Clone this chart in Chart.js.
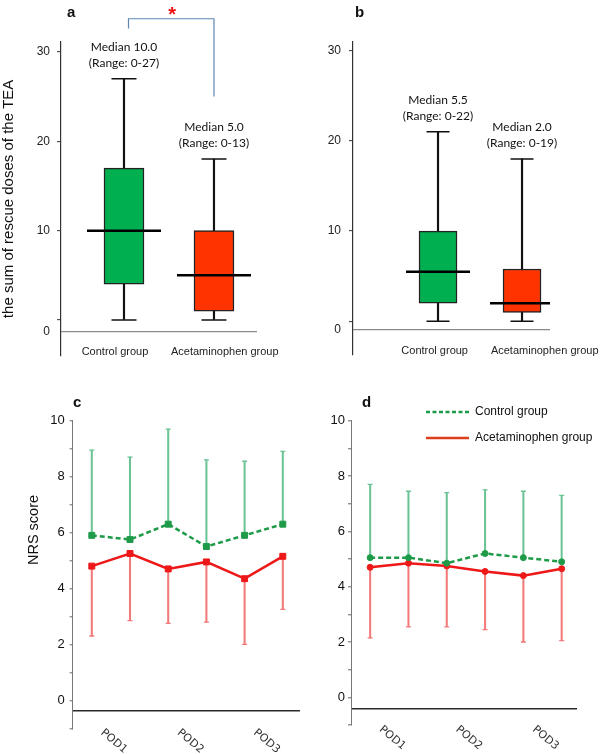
<!DOCTYPE html>
<html lang="en">
<head>
<meta charset="UTF-8">
<title>Rescue doses and NRS score</title>
<script src="https://cdn.jsdelivr.net/npm/chart.js@4"></script>
<style>
  body { margin: 0; background: #fff; }
  #wrap { position: relative; width: 600px; height: 754px; }
  .panel { position: absolute; }
  .tag { position: absolute; font: bold 15px 'Liberation Sans', Arial, sans-serif; line-height: 15px; color: #111; }
</style>
</head>
<body>
<div id="wrap">
  <canvas id="chartA" class="panel" style="left:0;top:0" width="300" height="370"></canvas>
  <canvas id="chartB" class="panel" style="left:300px;top:0" width="300" height="370"></canvas>
  <canvas id="chartC" class="panel" style="left:0;top:370px" width="300" height="384"></canvas>
  <canvas id="chartD" class="panel" style="left:300px;top:370px" width="300" height="384"></canvas>
  <div class="tag" style="left:67px;top:4px">a</div>
  <div class="tag" style="left:355px;top:4px">b</div>
  <div class="tag" style="left:73px;top:394px">c</div>
  <div class="tag" style="left:362px;top:394px">d</div>
</div>

<script>
// --- data ---------------------------------------------------------------
const groups = ['Control group', 'Acetaminophen group'];

// a: rescue doses (box plot)
const aMin = [0, 0];
const aQ1 = [4, 1];
const aMedian = [10, 5];
const aQ3 = [17, 10];
const aMax = [27, 18];
const aNotes = [['Median 10.0', '(Range: 0-27)'], ['Median 5.0', '(Range: 0-13)']];

// b
const bMin = [0, 0];
const bQ1 = [2, 1];
const bMedian = [5.5, 2];
const bQ3 = [10, 5.8];
const bMax = [21, 18];
const bNotes = [['Median 5.5', '(Range: 0-22)'], ['Median 2.0', '(Range: 0-19)']];

// c / d: NRS score, mean + SD (one side only)
const days = ['POD1', 'POD2', 'POD3'];
const cControl = [5.9, 5.75, 6.3, 5.5, 5.9, 6.3];
const cControlUp = [8.95, 8.7, 9.7, 8.6, 8.55, 8.9];
const cAcet = [4.8, 5.25, 4.7, 4.95, 4.35, 5.15];
const cAcetLow = [2.3, 2.85, 2.75, 2.8, 2.0, 3.25];

const dControl = [5.05, 5.05, 4.85, 5.2, 5.05, 4.9];
const dControlUp = [7.7, 7.45, 7.4, 7.5, 7.45, 7.3];
const dAcet = [4.7, 4.85, 4.75, 4.55, 4.4, 4.65];
const dAcetLow = [2.15, 2.55, 2.55, 2.45, 2.0, 2.05];

const GREEN = '#1e9b49', GREEN_BAR = '#6cc496';
const RED = '#ee1818', RED_BAR = '#f27a7a';

Chart.defaults.font.family = "'Liberation Sans', Arial, sans-serif";
Chart.defaults.color = '#222';

const xy = arr => arr.map((v, i) => ({ x: i, y: v }));
const span = (lo, hi) => lo.map((v, i) => ({ x: i, y: [v, hi[i]] }));

// --- box plots (a, b) ---------------------------------------------------
function boxDatasets(mn, q1, med, q3, mx, capR, medR, boxW) {
  return [
    { type: 'scatter', data: xy(med), pointStyle: 'line', pointRadius: medR,
      pointBorderColor: '#000', pointBorderWidth: 2.5, order: 1 },
    { type: 'scatter', data: xy(mn).concat(xy(mx)), pointStyle: 'line', pointRadius: capR,
      pointBorderColor: '#111', pointBorderWidth: 1.5, order: 1 },
    { type: 'bar', data: span(q1, q3), backgroundColor: ['#00b050', '#ff3300'],
      borderColor: '#222', borderWidth: 1.5, borderSkipped: false,
      barThickness: boxW, grouped: false, order: 2 },
    { type: 'bar', data: span(mn, mx), backgroundColor: '#111',
      barThickness: 1.5, grouped: false, order: 3 }
  ];
}

function notesPlugin(notes, mx, labelAt, extra) {
  return {
    id: 'notes',
    afterDraw(chart) {
      const { ctx, chartArea, scales: { x, y } } = chart;
      ctx.save();
      ctx.textAlign = 'center';
      ctx.textBaseline = 'middle';
      // group names under the boxes
      ctx.font = "11px 'Liberation Sans', Arial, sans-serif";
      ctx.fillStyle = '#222';
      groups.forEach((g, i) => ctx.fillText(g, x.getPixelForValue(labelAt[i]), chartArea.bottom - 4));
      // median / range notes above the whiskers
      ctx.font = '12px Lato, sans-serif';
      ctx.fillStyle = '#111';
      notes.forEach((lines, i) => {
        const px = x.getPixelForValue(i);
        const py = y.getPixelForValue(mx[i]) - 16;
        ctx.fillText(lines[1], px, py);
        ctx.fillText(lines[0], px, py - 16);
      });
      ctx.restore();
      if (extra) extra(chart);
    }
  };
}

// significance bracket + asterisk for panel a
function drawBracket(chart) {
  const { ctx, scales: { x, y } } = chart;
  const x0 = x.getPixelForValue(0.05), x1 = x.getPixelForValue(1);
  const top = y.getPixelForValue(33.7);
  ctx.save();
  ctx.strokeStyle = '#5b86b5';
  ctx.lineWidth = 1.2;
  ctx.beginPath();
  ctx.moveTo(x0, y.getPixelForValue(32.6));
  ctx.lineTo(x0, top);
  ctx.lineTo(x1, top);
  ctx.lineTo(x1, y.getPixelForValue(25));
  ctx.stroke();
  ctx.font = "bold 20px 'Liberation Sans', Arial, sans-serif";
  ctx.fillStyle = '#ee1111';
  ctx.textAlign = 'center';
  ctx.textBaseline = 'alphabetic';
  const m = ctx.measureText('*');
  const cy = y.getPixelForValue(34.6);
  ctx.fillText('*', (x0 + x1) / 2 + 1, cy + (m.actualBoundingBoxAscent - m.actualBoundingBoxDescent) / 2);
  ctx.restore();
}

function boxOptions(p) {
  return {
    responsive: false,
    animation: false,
    events: [],
    layout: { padding: p.padding, autoPadding: false },
    plugins: { legend: { display: false }, tooltip: { enabled: false } },
    scales: {
      x: { type: 'linear', min: p.xMin, max: p.xMax, offset: false, display: false },
      y: {
        min: p.yMin, max: p.yMax,
        afterBuildTicks: s => { s.ticks = [p.baseLine, 0, 10, 20, 30].map(v => ({ value: v })); },
        afterFit: s => { s.width = p.axisW; },
        grid: {
          color: c => (c.tick && c.tick.value === p.baseLine) ? '#8a8a8a' : 'transparent',
          tickColor: c => (c.tick && c.tick.value === p.baseLine) ? 'transparent' : '#333',
          lineWidth: 1.3, tickWidth: 1, tickLength: 4
        },
        border: { color: '#333', width: 1.2 },
        ticks: { padding: p.tickPad, font: { size: 12 }, color: '#222',
          callback: v => v === p.baseLine ? '0' : (v === 0 ? '' : String(v)) },
        title: p.title
          ? { display: true, text: p.title, font: { size: 15 }, color: '#111', padding: { top: 0, bottom: 0 } }
          : { display: false }
      }
    }
  };
}

new Chart(document.getElementById('chartA'), {
  type: 'bar',
  data: { datasets: boxDatasets(aMin, aQ1, aMedian, aQ3, aMax, 12.5, 37, 40) },
  options: boxOptions({
    padding: { left: 0, top: 42, right: 43, bottom: 12 },
    xMin: -0.7, xMax: 1.478,
    yMin: -4, yMax: 31.1, baseLine: -1.25, axisW: 61, tickPad: 7,
    title: 'the sum of rescue doses of the TEA'
  }),
  plugins: [notesPlugin(aNotes, aMax, [-0.1, 1.12], drawBracket)]
});

new Chart(document.getElementById('chartB'), {
  type: 'bar',
  data: { datasets: boxDatasets(bMin, bQ1, bMedian, bQ3, bMax, 11.5, 32, 38) },
  options: boxOptions({
    padding: { left: 0, top: 42, right: 50, bottom: 13 },
    xMin: -1.012, xMax: 1.333,
    yMin: -3.71, yMax: 30.96, baseLine: -0.93, axisW: 53, tickPad: 8,
    title: null
  }),
  plugins: [notesPlugin(bNotes, bMax, [-0.04, 1.27])]
});

// --- NRS line charts (c, d) ---------------------------------------------
function nrsPlugin(p) {
  return {
    id: 'nrsText',
    afterDraw(chart) {
      const { ctx, chartArea, scales: { x } } = chart;
      ctx.save();
      // POD labels, slanted downwards
      ctx.font = "11px 'DejaVu Sans', sans-serif";
      ctx.fillStyle = '#333';
      ctx.textAlign = 'center';
      ctx.textBaseline = 'middle';
      days.forEach((d, i) => {
        ctx.save();
        ctx.translate(x.getPixelForValue(p.dayAt[i]) + 3, chartArea.bottom + 13);
        ctx.rotate(40 * Math.PI / 180);
        ctx.fillText(d, 0, 0);
        ctx.restore();
      });
      if (p.yTitle) {
        ctx.save();
        ctx.font = "14.5px 'Liberation Sans', Arial, sans-serif";
        ctx.fillStyle = '#111';
        ctx.translate(34, 160);
        ctx.rotate(-Math.PI / 2);
        ctx.fillText(p.yTitle, 0, 0);
        ctx.restore();
      }
      if (p.legend) {
        ctx.font = "12px 'Liberation Sans', Arial, sans-serif";
        ctx.textAlign = 'left';
        ctx.fillStyle = '#111';
        const rows = [
          { text: groups[0], color: GREEN, dash: [4, 2.5], y: 42 },
          { text: groups[1], color: '#dc3f1c', dash: [], y: 68 }
        ];
        rows.forEach(r => {
          ctx.strokeStyle = r.color;
          ctx.lineWidth = 2.5;
          ctx.setLineDash(r.dash);
          ctx.beginPath();
          ctx.moveTo(126, r.y);
          ctx.lineTo(169, r.y);
          ctx.stroke();
          ctx.setLineDash([]);
          ctx.fillText(r.text, 175, r.y);
        });
      }
      ctx.restore();
    }
  };
}

function nrsChart(id, ctrl, ctrlUp, acet, acetLow, p) {
  const ticks = [-1, p.baseLine, 0, 1, 2, 3, 4, 5, 6, 7, 8, 9, 10];
  return new Chart(document.getElementById(id), {
    type: 'line',
    data: {
      datasets: [
        { label: groups[0], data: xy(ctrl), borderColor: GREEN, borderWidth: 2.5, borderDash: [5, 3],
          tension: 0, fill: false, pointStyle: p.marker, pointRadius: p.markerR,
          pointBackgroundColor: GREEN, pointBorderColor: GREEN, pointBorderWidth: 1, order: 1 },
        { label: groups[1], data: xy(acet), borderColor: RED, borderWidth: 2.5,
          tension: 0, fill: false, pointStyle: p.marker, pointRadius: p.markerR,
          pointBackgroundColor: RED, pointBorderColor: RED, pointBorderWidth: 1, order: 1 },
        { type: 'scatter', data: xy(ctrlUp), pointStyle: 'line', pointRadius: 2.5,
          pointBorderColor: GREEN_BAR, pointBorderWidth: 1.3, order: 2 },
        { type: 'scatter', data: xy(acetLow), pointStyle: 'line', pointRadius: 2.5,
          pointBorderColor: RED_BAR, pointBorderWidth: 1.3, order: 2 },
        { type: 'bar', data: span(ctrl, ctrlUp), backgroundColor: GREEN_BAR,
          barThickness: 1.4, grouped: false, order: 3 },
        { type: 'bar', data: span(acetLow, acet), backgroundColor: RED_BAR,
          barThickness: 1.4, grouped: false, order: 3 }
      ]
    },
    options: {
      responsive: false,
      animation: false,
      events: [],
      layout: { padding: p.padding, autoPadding: false },
      plugins: { legend: { display: false }, tooltip: { enabled: false } },
      scales: {
        x: { type: 'linear', min: -0.5, max: p.xMax, offset: false, display: false },
        y: {
          min: -1, max: 10,
          afterBuildTicks: s => { s.ticks = ticks.map(v => ({ value: v })); },
          afterFit: s => { s.width = p.axisW; },
          grid: {
            color: c => (c.tick && c.tick.value === p.baseLine) ? '#2a2a2a' : 'transparent',
            tickColor: c => (c.tick && c.tick.value === p.baseLine) ? 'transparent' : '#666',
            lineWidth: 1.6, tickWidth: 1, tickLength: 3
          },
          border: { color: '#777', width: 1 },
          ticks: { padding: p.tickPad, font: { size: 13 }, color: '#111',
            callback: v => (v >= 0 && v % 2 === 0) ? String(v) : '' }
        }
      }
    },
    plugins: [nrsPlugin(p)]
  });
}

nrsChart('chartC', cControl, cControlUp, cAcet, cAcetLow, {
  padding: { left: 0, top: 50.7, right: 0, bottom: 25.7 },
  xMax: 5.45, axisW: 72.7, tickPad: 5, baseLine: -0.36,
  marker: 'rect', markerR: 4.2, dayAt: [0.5, 2.5, 4.5], yTitle: 'NRS score', legend: false
});

nrsChart('chartD', dControl, dControlUp, dAcet, dAcetLow, {
  padding: { left: 0, top: 50.7, right: 23, bottom: 29 },
  xMax: 5.4, axisW: 51, tickPad: 3, baseLine: -0.4,
  marker: 'circle', markerR: 3, dayAt: [0.5, 2.5, 4.5], yTitle: null, legend: true
});
</script>
</body>
</html>
